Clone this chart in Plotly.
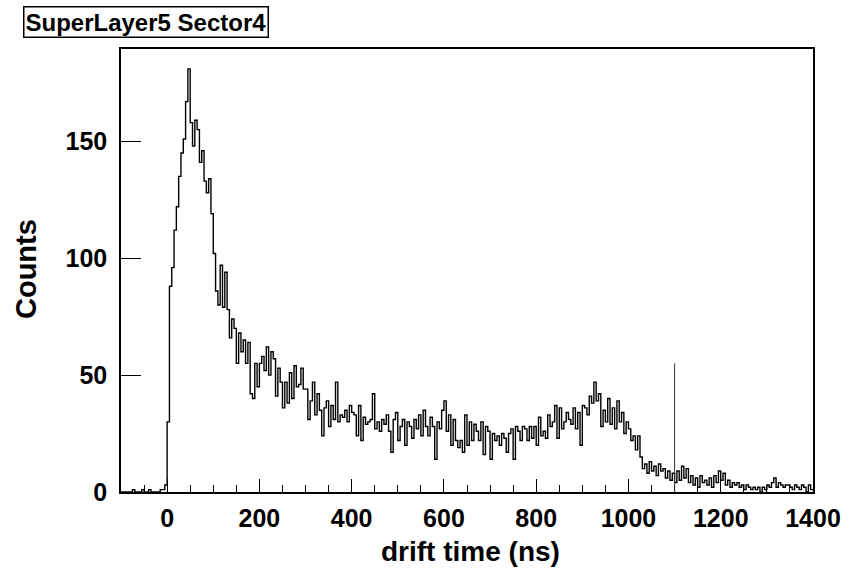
import plotly.graph_objects as go

# ---- data (5 ns bins from -100 ns to 1400 ns) ----
bin_start = -100
bin_width = 5
counts = [
    # -100 .. 0
    0, 0, 0, 0, 0, 1, 0, 0, 0, 1, 0, 0, 1, 0, 0, 0, 0, 1, 1, 3,
    # 0 .. 100
    30, 88, 96, 112, 122, 135, 145, 151, 167, 181, 158, 148, 159, 155, 141, 146, 133, 128, 134, 119,
    # 100 .. 200
    102, 86, 80, 97, 79, 94, 78, 66, 74, 70, 55, 68, 60, 65, 55, 64, 42, 40, 55, 45,
    # 200 .. 300
    55, 58, 52, 62, 50, 60, 57, 41, 53, 47, 36, 47, 38, 51, 40, 54, 45, 46, 53, 44,
    # 300 .. 400
    44, 31, 39, 47, 33, 42, 35, 24, 36, 39, 28, 37, 31, 47, 30, 33, 32, 35, 30, 37,
    # 400 .. 500
    34, 33, 24, 37, 22, 32, 29, 30, 31, 42, 27, 30, 26, 31, 29, 33, 26, 17, 31, 34,
    # 500 .. 600
    22, 28, 31, 20, 30, 28, 23, 31, 27, 33, 24, 35, 28, 24, 32, 28, 14, 30, 27, 35,
    # 600 .. 700
    39, 26, 33, 20, 31, 22, 19, 22, 17, 33, 20, 30, 22, 29, 26, 22, 30, 16, 28, 26,
    # 700 .. 800
    14, 25, 22, 24, 20, 25, 23, 17, 25, 27, 14, 28, 26, 22, 28, 27, 22, 28, 23, 28,
    # 800 .. 900
    20, 32, 24, 26, 23, 33, 28, 30, 37, 23, 36, 27, 30, 34, 31, 29, 36, 27, 34, 20,
    # 900 .. 1000
    37, 36, 33, 41, 38, 47, 39, 42, 28, 35, 30, 40, 29, 36, 27, 39, 30, 34, 25, 30,
    # 1000 .. 1100
    27, 22, 24, 18, 24, 15, 10, 12, 8, 13, 9, 11, 7, 12, 9, 10, 6, 9, 5, 8,
    # 1100 .. 1200
    4, 9, 5, 11, 6, 10, 4, 7, 3, 6, 2, 7, 4, 5, 3, 6, 2, 7, 4, 9,
    # 1200 .. 1300
    5, 8, 3, 5, 2, 4, 3, 4, 2, 3, 1, 3, 2, 1, 2, 1, 2, 0, 2, 1,
    # 1300 .. 1400
    3, 2, 4, 6, 2, 4, 3, 2, 3, 3, 2, 1, 3, 2, 1, 3, 2, 0, 3, 1,
]
cut_time = 1100
cut_height = 55
title_text = "SuperLayer5 Sector4"
x_title = "drift time (ns)"
y_title = "Counts"
x_tick_vals = [0, 200, 400, 600, 800, 1000, 1200, 1400]
y_tick_vals = [0, 50, 100, 150]

# step outline from bin edges
edges = [bin_start + i * bin_width for i in range(len(counts) + 1)]
step_y = counts + [counts[-1]]

W, H = 849, 570
L, R, T, B = 121, 36, 49, 78
PW, PH = W - L - R, H - T - B


def px(x):
    return (x - L) / PW


def py(y):
    return (H - B - y) / PH


tick_font = dict(family="Liberation Sans, Arial", size=25, color="black", weight="bold")
label_font = dict(family="Liberation Sans, Arial", size=28, color="black", weight="bold")

fig = go.Figure()
fig.add_trace(go.Scatter(
    x=edges, y=step_y, mode="lines", line_shape="hv",
    line=dict(color="black", width=1.4), hoverinfo="skip", showlegend=False,
))

fig.add_shape(type="line", xref="x", yref="y", x0=cut_time, x1=cut_time, y0=0, y1=cut_height,
              line=dict(color="#333333", width=1))

fig.update_layout(
    width=W, height=H,
    margin=dict(l=L, r=R, t=T, b=B, pad=0, autoexpand=False),
    paper_bgcolor="white", plot_bgcolor="white",
    showlegend=False,
    xaxis=dict(
        range=[-100, 1400], showgrid=False, zeroline=False, automargin=False,
        showline=True, linecolor="black", linewidth=1.5, mirror=True,
        ticks="inside", ticklen=13, tickwidth=1, tickcolor="black",
        tickvals=x_tick_vals, tickfont=tick_font, ticklabelstandoff=3,
        minor=dict(ticks="inside", ticklen=7, tickwidth=1, tickcolor="black", dtick=50, tick0=0),
    ),
    yaxis=dict(
        range=[0, 189.5], showgrid=False, zeroline=False, automargin=False,
        showline=True, linecolor="black", linewidth=1.5, mirror=True,
        ticks="inside", ticklen=20, tickwidth=1, tickcolor="black",
        tickvals=y_tick_vals, tickfont=tick_font, ticklabelstandoff=7,
    ),
    annotations=[
        dict(text=title_text, xref="paper", yref="paper", x=px(23), y=py(6),
             xanchor="left", yanchor="top", showarrow=False,
             font=dict(family="Liberation Sans, Arial", size=24, color="black", weight="bold"),
             bordercolor="black", borderwidth=1.5, borderpad=1, bgcolor="white"),
        dict(text=y_title, xref="paper", yref="paper", x=px(26), y=py(269),
             xanchor="center", yanchor="middle", textangle=-90, showarrow=False,
             font=dict(family="Liberation Sans, Arial", size=29, color="black", weight="bold")),
        dict(text=x_title, xref="paper", yref="paper", x=px(470), y=py(551),
             xanchor="center", yanchor="middle", showarrow=False,
             font=label_font),
    ],
)

fig.write_html("out.html", config={"displayModeBar": False},
               post_script="document.body.style.margin='0';document.body.style.overflow='hidden';")
